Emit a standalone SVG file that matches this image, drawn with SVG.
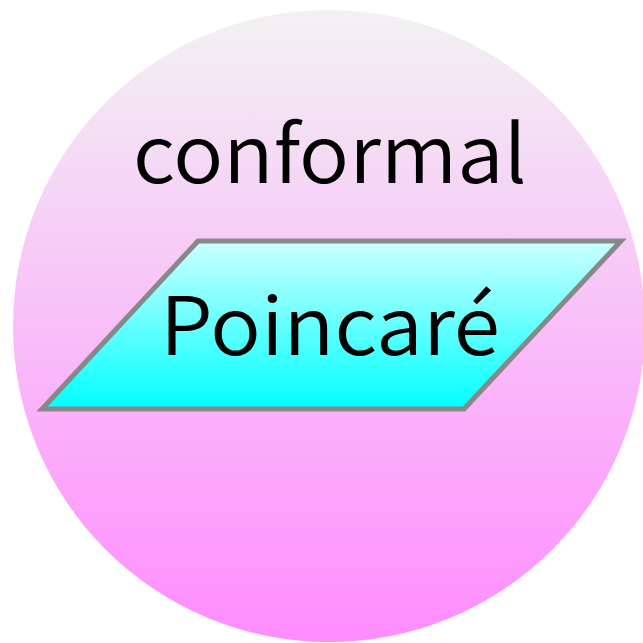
<svg xmlns="http://www.w3.org/2000/svg" width="643" height="643" viewBox="0 0 643 643">
<defs>
<linearGradient id="gc" x1="0" y1="0" x2="0" y2="1">
<stop offset="0" stop-color="#f2f2f2"/>
<stop offset="1" stop-color="#ff8cff"/>
</linearGradient>
<linearGradient id="gp" x1="0" y1="0" x2="0" y2="1">
<stop offset="0" stop-color="#ccffff"/>
<stop offset="1" stop-color="#00ffff"/>
</linearGradient>
<style>
text{font-family:"Noto Sans CJK JP","Noto Sans",sans-serif;font-weight:350;fill:#000;text-anchor:middle;font-size:80px}
</style>
</defs>
<g id="circle">
<circle cx="329" cy="326" r="316" fill="url(#gc)"/>
<text x="330" y="183" textLength="394" lengthAdjust="spacingAndGlyphs">conformal</text>
</g>
<g id="poincare">
<polygon points="198,241 621,241 464,409 42,409" fill="url(#gp)" stroke="#888888" stroke-width="5"/>
<text x="330" y="355" textLength="340" lengthAdjust="spacingAndGlyphs">Poincaré</text>
</g>
<g id="connectors"/>
</svg>
